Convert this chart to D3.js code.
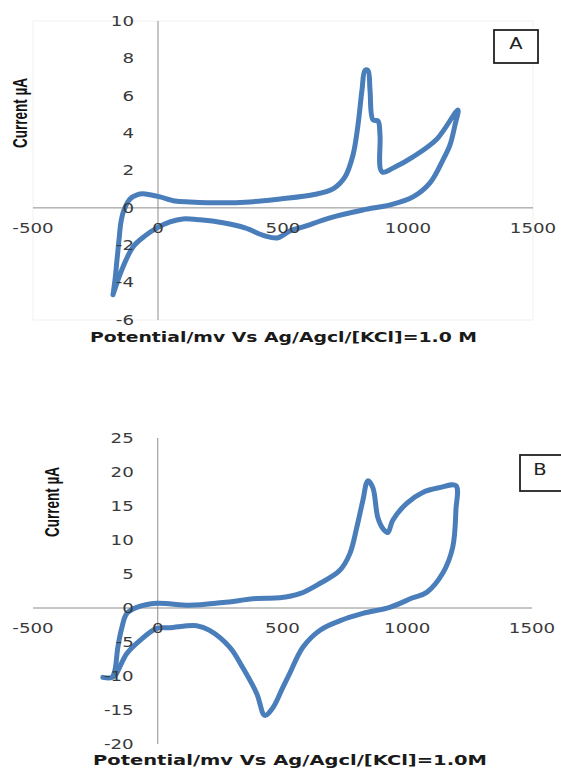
<!DOCTYPE html>
<html>
<head>
<meta charset="utf-8">
<script src="https://cdn.jsdelivr.net/npm/d3@7"></script>
<style>
html,body{margin:0;padding:0;background:#fff;}
svg{display:block;}
</style>
</head>
<body>
<svg id="chart" width="561" height="769"></svg>
<script>
// ---- Data ----
const xTicks = [-500, 0, 500, 1000, 1500];
const yTicksA = [-6, -4, -2, 0, 2, 4, 6, 8, 10];
const yTicksB = [-20, -15, -10, -5, 0, 5, 10, 15, 20, 25];

// Panel A: cyclic voltammogram (potential mV, current µA)
const potentialA = [-180,-172,-164,-156,-148,-136,-112,-84,-60,-32,8,68,128,248,368,488,620,700,748,780,800,816,828,840,848,860,880,888,896,948,1020,1116,1200,
  1188,1168,1140,1088,1020,928,820,688,580,528,480,428,348,260,168,100,48,-4,-52,-100,-140,-164,-180];
const currentA = [-4.65,-3.85,-2.78,-1.71,-0.75,-0.11,0.48,0.70,0.75,0.70,0.59,0.37,0.32,0.27,0.32,0.48,0.70,1.02,1.66,2.83,4.44,6.31,7.35,7.35,6.31,4.71,4.65,3.9,1.93,2.19,2.73,3.69,5.24,
  4.44,3.37,2.57,1.34,0.59,0.16,-0.11,-0.53,-1.02,-1.23,-1.60,-1.50,-1.07,-0.80,-0.64,-0.59,-0.75,-1.07,-1.50,-2.09,-3.16,-4.01,-4.65];

// Panel B
const potentialB = [-220,-184,-172,-160,-144,-124,-84,-4,128,261,397,489,569,649,729,770,798,822,842,862,882,902,922,942,998,1062,1130,1195,
  1195,1182,1142,1078,1022,930,822,729,649,581,529,501,461,429,397,341,289,208,156,48,-4,-72,-124,-172,-184];
const currentB = [-10.2,-10.2,-9.2,-5.8,-2.9,-0.8,0.1,0.7,0.4,0.8,1.4,1.5,2.1,3.6,5.5,8.0,11.9,15.8,18.7,17.7,13.3,11.7,11.1,12.9,15.4,17.0,17.7,18.0,
  14.4,8.9,5.1,2.3,1.5,0.1,-0.8,-1.9,-3.3,-5.8,-9.6,-11.7,-14.7,-15.8,-12.6,-8.8,-5.8,-3.3,-2.6,-2.9,-3.0,-4.8,-6.7,-10.0,-10.2];

const xLabel = "Potential/mv Vs Ag/Agcl/[KCl]=1.0 M";
const xLabelB = "Potential/mv Vs Ag/Agcl/[KCl]=1.0M";
const yLabel = "Current µA";

const svg = d3.select("#chart");
const lineColor = "#4a7ebb";

function stretchText(sel, factor) {
  sel.each(function() {
    const w = this.getComputedTextLength();
    d3.select(this).attr("textLength", w * factor).attr("lengthAdjust", "spacingAndGlyphs");
  });
}

function panel(opt) {
  const x = d3.scaleLinear().domain([-500, 1500]).range([opt.x0, opt.x1]);
  const y = d3.scaleLinear().domain(opt.yDomain).range([opt.yBottom, opt.yTop]);
  const g = svg.append("g");

  if (opt.frame) {
    g.append("rect").attr("x", opt.x0).attr("y", opt.yTop)
      .attr("width", opt.x1 - opt.x0).attr("height", opt.yBottom - opt.yTop)
      .attr("fill", "none").attr("stroke", "#f1f1f1").attr("stroke-width", 1);
  }

  // axes lines (crossing at 0)
  g.append("line").attr("x1", x(-500)).attr("x2", x(1500)).attr("y1", y(0)).attr("y2", y(0))
    .attr("stroke", "#8c8c8c").attr("stroke-width", 1);
  g.append("line").attr("x1", x(0)).attr("x2", x(0)).attr("y1", y(opt.yDomain[1])).attr("y2", y(opt.yDomain[0]))
    .attr("stroke", "#8c8c8c").attr("stroke-width", 1);

  // curve
  const pts = opt.px.map((v, i) => [v, opt.py[i]]);
  const line = d3.line().x(d => x(d[0])).y(d => y(d[1])).curve(d3.curveCatmullRom.alpha(0.5));
  g.append("path").datum(pts).attr("d", line).attr("fill", "none")
    .attr("stroke", lineColor).attr("stroke-width", 5)
    .attr("stroke-linejoin", "round").attr("stroke-linecap", "round");

  // y tick labels
  const yl = g.selectAll(".yt").data(opt.yTicks).enter().append("text")
    .attr("x", x(0) - 24).attr("y", d => y(d)).attr("dy", "0.36em")
    .attr("text-anchor", "end").attr("font-family", "DejaVu Sans, Verdana, sans-serif")
    .attr("font-size", 13.5).attr("fill", "#3a3a3a").text(d => d);
  stretchText(yl, 1.35);

  // x tick labels
  const xl = g.selectAll(".xt").data(xTicks).enter().append("text")
    .attr("x", d => x(d)).attr("y", y(0) + opt.xLabOff).attr("dy", "0.36em")
    .attr("text-anchor", "middle").attr("font-family", "DejaVu Sans, Verdana, sans-serif")
    .attr("font-size", 13.5).attr("fill", "#3a3a3a").text(d => d);
  stretchText(xl, 1.35);

  // x title
  g.append("text").attr("x", opt.xt[0]).attr("y", opt.xt[1]).attr("dy", "0.36em")
    .attr("font-family", "DejaVu Sans, Verdana, sans-serif").attr("font-weight", "bold")
    .attr("font-size", 14).attr("fill", "#1a1a1a")
    .attr("textLength", opt.xt[2]).attr("lengthAdjust", "spacingAndGlyphs")
    .text(opt.xTitle);

  // y title
  g.append("text").attr("transform", `translate(${opt.yt[0]},${opt.yt[1]}) rotate(-90)`)
    .attr("text-anchor", "middle").attr("dy", "0.36em")
    .attr("font-family", "Liberation Sans Narrow, Liberation Sans, Arial, sans-serif").attr("font-weight", "bold")
    .attr("font-size", 20).attr("fill", "#111")
    .attr("textLength", 70).attr("lengthAdjust", "spacingAndGlyphs")
    .text(yLabel);

  // box label
  g.append("rect").attr("x", opt.box[0]).attr("y", opt.box[1]).attr("width", opt.box[2]).attr("height", opt.box[3])
    .attr("fill", "#fff").attr("stroke", "#222").attr("stroke-width", 1.8);
  const bt = g.append("text").attr("x", opt.box[4]).attr("y", opt.box[5]).attr("dy", "0.36em")
    .attr("text-anchor", "middle").attr("font-family", "DejaVu Sans, Verdana, sans-serif")
    .attr("font-size", 15).attr("fill", "#222").text(opt.boxText);
  stretchText(bt, 1.3);
}

panel({
  x0: 33, x1: 533, yTop: 21, yBottom: 320, yDomain: [-6, 10], yTicks: yTicksA,
  px: potentialA, py: currentA, xLabOff: 20, frame: true,
  xTitle: xLabel, xt: [90, 337, 387], yt: [20, 113],
  box: [494, 30, 44, 33, 516, 44], boxText: "A"
});

panel({
  x0: 33, x1: 532, yTop: 438, yBottom: 744, yDomain: [-20, 25], yTicks: yTicksB,
  px: potentialB, py: currentB, xLabOff: 20, frame: false,
  xTitle: xLabelB, xt: [93, 760, 394], yt: [52, 502],
  box: [520, 455, 45, 36, 540, 470], boxText: "B"
});
</script>
</body>
</html>
